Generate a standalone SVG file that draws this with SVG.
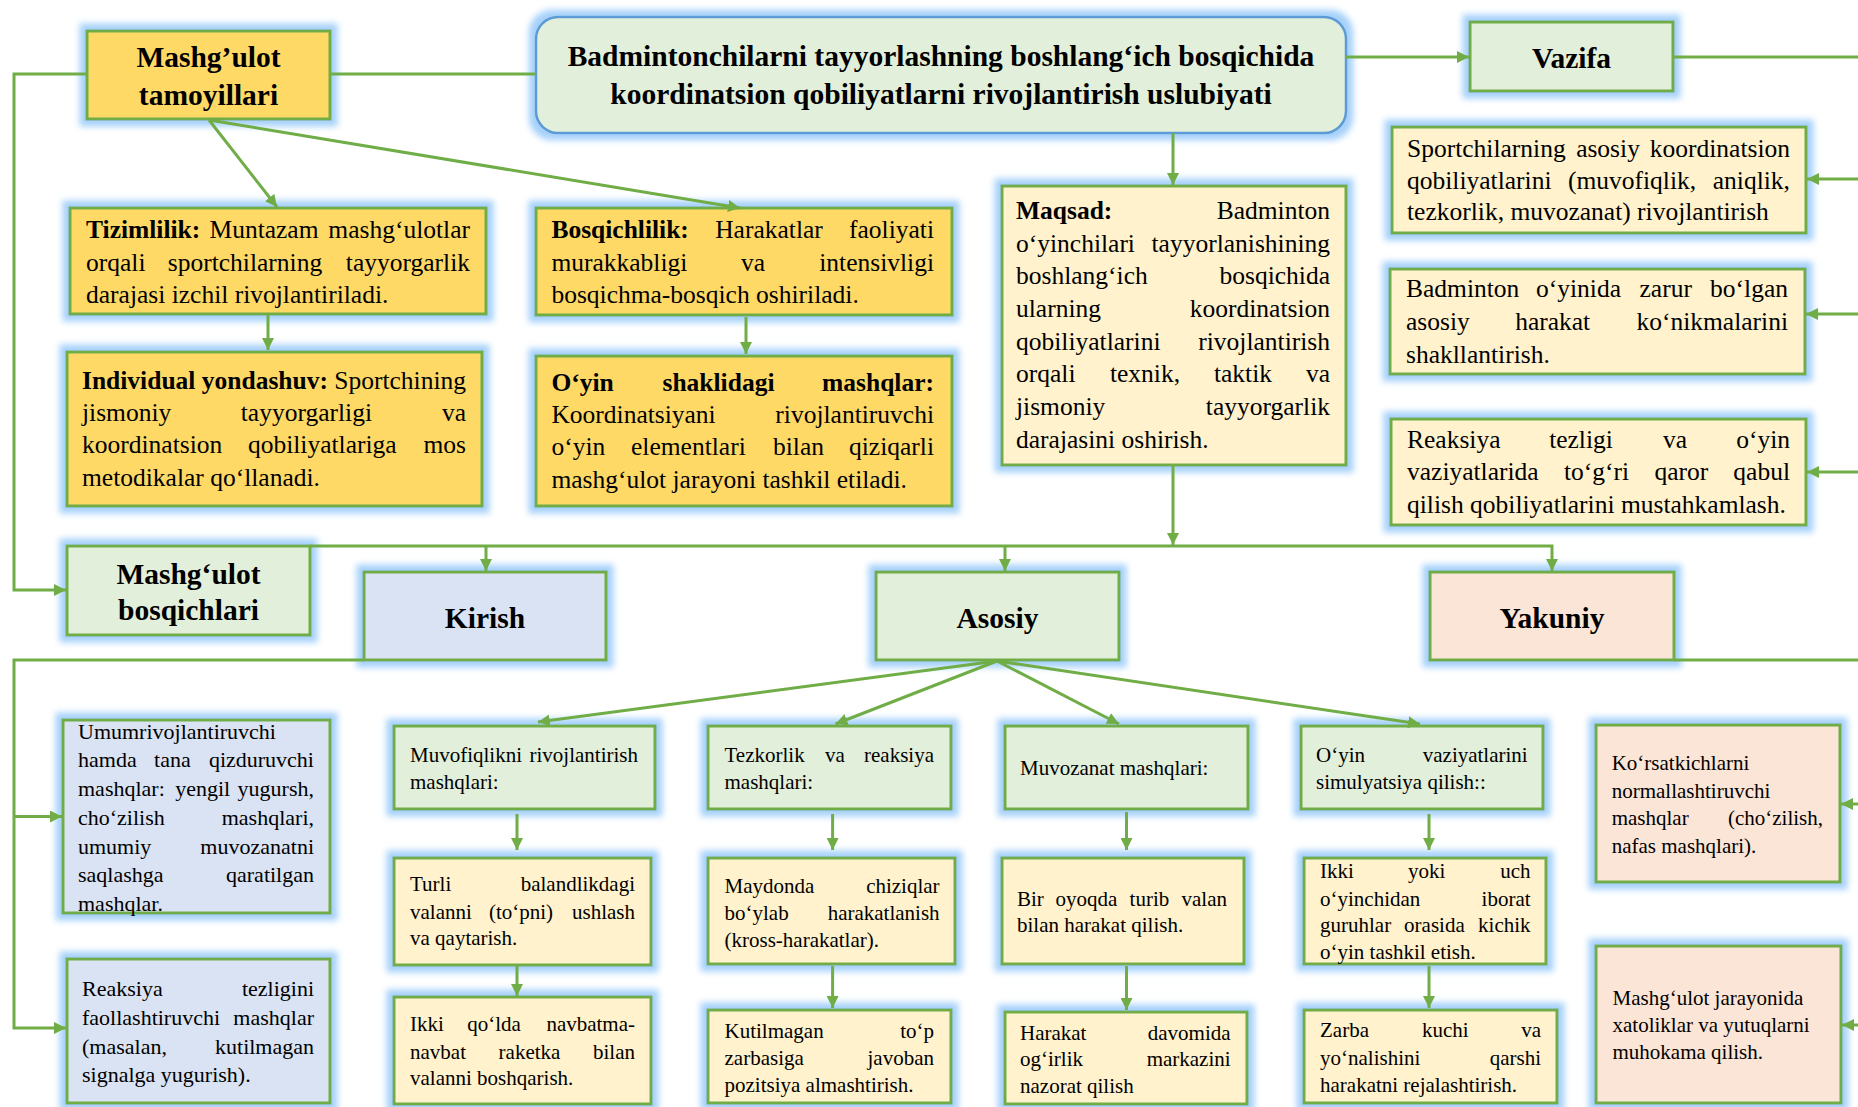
<svg xmlns="http://www.w3.org/2000/svg" width="1858" height="1107" viewBox="0 0 1858 1107">
<defs>
<filter id="glow" x="-15%" y="-25%" width="130%" height="150%">
<feMorphology in="SourceAlpha" operator="dilate" radius="6" result="d"/>
<feGaussianBlur in="d" stdDeviation="3" result="b"/>
<feFlood flood-color="#a6d1fb" flood-opacity="1"/>
<feComposite in2="b" operator="in" result="g"/>
<feMerge><feMergeNode in="g"/><feMergeNode in="SourceGraphic"/></feMerge>
</filter>
<marker id="ah" viewBox="0 0 12 12" refX="12" refY="6" markerWidth="12" markerHeight="12" markerUnits="userSpaceOnUse" orient="auto">
<path d="M0,0 L12,6 L0,12 z" fill="#70AD47"/>
</marker>
<style>
.bx{stroke:#70AD47;stroke-width:3;filter:url(#glow)}
.o{fill:#FFD966}.y{fill:#FFF2CC}.g{fill:#E2EFDA}.bl{fill:#DAE3F3}.p{fill:#FBE5D6}
text{font-family:"Liberation Serif","Times New Roman",serif;fill:#000}
.t{font-size:25.5px}
.s{font-size:21px}
.m{font-size:22px}
.h{font-size:29.5px;font-weight:bold;text-anchor:middle}
.k{font-weight:bold}
.mi{text-anchor:middle}
.e{text-anchor:end}
.c path{stroke:#70AD47;stroke-width:3;fill:none}
</style>
</defs>
<rect width="1858" height="1107" fill="#ffffff"/>

<g id="n-tamoyillari">
<rect class="bx o" x="87" y="31" width="243" height="88"/>
<text class="h" x="208.5" y="67">Mashg’ulot</text>
<text class="h" x="208.5" y="105">tamoyillari</text>
</g>

<g id="n-title">
<rect x="536" y="17" width="810" height="116" rx="22" fill="#E2EFDA" stroke="#5B9BD5" stroke-width="2.5" filter="url(#glow)"/>
<text class="h" x="941" y="66">Badmintonchilarni tayyorlashning boshlang‘ich bosqichida</text>
<text class="h" x="941" y="104">koordinatsion qobiliyatlarni rivojlantirish uslubiyati</text>
</g>

<g id="n-vazifa">
<rect class="bx g" x="1470" y="22" width="203" height="69"/>
<text class="h" x="1571.5" y="67.5">Vazifa</text>
</g>

<g id="n-tizimlilik">
<rect class="bx o" x="70" y="208" width="416" height="106"/>
<text class="t" y="238"><tspan x="86" class="k">Tizimlilik:</tspan><tspan x="264" class="mi">Muntazam</tspan><tspan x="470" class="e">mashg‘ulotlar</tspan></text>
<text class="t" y="270.5"><tspan x="86">orqali</tspan><tspan x="245" class="mi">sportchilarning</tspan><tspan x="470" class="e">tayyorgarlik</tspan></text>
<text class="t" x="86" y="303">darajasi izchil rivojlantiriladi.</text>
</g>

<g id="n-individual">
<rect class="bx o" x="67" y="352" width="415" height="154"/>
<text class="t" y="389"><tspan x="82" class="k">Individual yondashuv:</tspan><tspan x="466" class="e">Sportchining</tspan></text>
<text class="t" y="421"><tspan x="82">jismoniy</tspan><tspan x="306.4" class="mi">tayyorgarligi</tspan><tspan x="466" class="e">va</tspan></text>
<text class="t" y="453"><tspan x="82">koordinatsion</tspan><tspan x="322.3" class="mi">qobiliyatlariga</tspan><tspan x="466" class="e">mos</tspan></text>
<text class="t" x="82" y="485.5">metodikalar qo‘llanadi.</text>
</g>

<g id="n-bosqichlilik">
<rect class="bx o" x="536" y="208" width="416" height="107"/>
<text class="t" y="238"><tspan x="551.4" class="k">Bosqichlilik:</tspan><tspan x="769" class="mi">Harakatlar</tspan><tspan x="934" class="e">faoliyati</tspan></text>
<text class="t" y="270.5"><tspan x="551.4">murakkabligi</tspan><tspan x="753" class="mi">va</tspan><tspan x="934" class="e">intensivligi</tspan></text>
<text class="t" x="551.4" y="303">bosqichma-bosqich oshiriladi.</text>
</g>

<g id="n-oyin-shakl">
<rect class="bx o" x="536" y="356" width="416" height="150"/>
<text class="t k" y="391"><tspan x="551.4">O‘yin</tspan><tspan x="718.5" class="mi">shaklidagi</tspan><tspan x="934" class="e">mashqlar:</tspan></text>
<text class="t" y="423"><tspan x="551.4">Koordinatsiyani</tspan><tspan x="934" class="e">rivojlantiruvchi</tspan></text>
<text class="t" y="455"><tspan x="551.4">o‘yin</tspan><tspan x="688.4" class="mi">elementlari</tspan><tspan x="798.5" class="mi">bilan</tspan><tspan x="934" class="e">qiziqarli</tspan></text>
<text class="t" x="551.4" y="488">mashg‘ulot jarayoni tashkil etiladi.</text>
</g>

<g id="n-maqsad">
<rect class="bx y" x="1002" y="186" width="344" height="279"/>
<text class="t" y="219"><tspan x="1016" class="k">Maqsad:</tspan><tspan x="1330" class="e">Badminton</tspan></text>
<text class="t" y="251.5"><tspan x="1016">o‘yinchilari</tspan><tspan x="1330" class="e">tayyorlanishining</tspan></text>
<text class="t" y="284"><tspan x="1016">boshlang‘ich</tspan><tspan x="1330" class="e">bosqichida</tspan></text>
<text class="t" y="317"><tspan x="1016">ularning</tspan><tspan x="1330" class="e">koordinatsion</tspan></text>
<text class="t" y="349.5"><tspan x="1016">qobiliyatlarini</tspan><tspan x="1330" class="e">rivojlantirish</tspan></text>
<text class="t" y="382"><tspan x="1016">orqali</tspan><tspan x="1145" class="mi">texnik,</tspan><tspan x="1243" class="mi">taktik</tspan><tspan x="1330" class="e">va</tspan></text>
<text class="t" y="415"><tspan x="1016">jismoniy</tspan><tspan x="1330" class="e">tayyorgarlik</tspan></text>
<text class="t" x="1016" y="448">darajasini oshirish.</text>
</g>

<g id="n-vazifa-1">
<rect class="bx y" x="1392" y="127" width="414" height="106"/>
<text class="t" y="157"><tspan x="1407">Sportchilarning</tspan><tspan x="1608" class="mi">asosiy</tspan><tspan x="1790" class="e">koordinatsion</tspan></text>
<text class="t" y="189"><tspan x="1407">qobiliyatlarini</tspan><tspan x="1632" class="mi">(muvofiqlik,</tspan><tspan x="1790" class="e">aniqlik,</tspan></text>
<text class="t" x="1407" y="220">tezkorlik, muvozanat) rivojlantirish</text>
</g>

<g id="n-vazifa-2">
<rect class="bx y" x="1390" y="269" width="415" height="105"/>
<text class="t" y="297"><tspan x="1406">Badminton</tspan><tspan x="1578.5" class="mi">o‘yinida</tspan><tspan x="1665.7" class="mi">zarur</tspan><tspan x="1788" class="e">bo‘lgan</tspan></text>
<text class="t" y="330"><tspan x="1406">asosiy</tspan><tspan x="1552.7" class="mi">harakat</tspan><tspan x="1788" class="e">ko‘nikmalarini</tspan></text>
<text class="t" x="1406" y="363">shakllantirish.</text>
</g>

<g id="n-vazifa-3">
<rect class="bx y" x="1391" y="419" width="415" height="106"/>
<text class="t" y="448"><tspan x="1407">Reaksiya</tspan><tspan x="1581" class="mi">tezligi</tspan><tspan x="1675" class="mi">va</tspan><tspan x="1790" class="e">o‘yin</tspan></text>
<text class="t" y="480"><tspan x="1407">vaziyatlarida</tspan><tspan x="1596.6" class="mi">to‘g‘ri</tspan><tspan x="1681.3" class="mi">qaror</tspan><tspan x="1790" class="e">qabul</tspan></text>
<text class="t" x="1407" y="513">qilish qobiliyatlarini mustahkamlash.</text>
</g>

<g id="n-bosqichlari">
<rect class="bx g" x="67" y="546" width="243" height="89"/>
<text class="h" x="188.5" y="583.6">Mashg‘ulot</text>
<text class="h" x="188.5" y="620.3">bosqichlari</text>
</g>

<g id="n-kirish">
<rect class="bx bl" x="364" y="572" width="242" height="88"/>
<text class="h" x="485" y="628">Kirish</text>
</g>

<g id="n-asosiy">
<rect class="bx g" x="876" y="572" width="243" height="88"/>
<text class="h" x="997.5" y="628">Asosiy</text>
</g>

<g id="n-yakuniy">
<rect class="bx p" x="1430" y="572" width="244" height="88"/>
<text class="h" x="1552" y="628">Yakuniy</text>
</g>

<g id="n-umumrivojlantiruvchi">
<rect class="bx bl" x="63" y="720" width="267" height="193"/>
<text class="m" x="78" y="739">Umumrivojlantiruvchi</text>
<text class="m" y="767"><tspan x="78">hamda</tspan><tspan x="172.4" class="mi">tana</tspan><tspan x="314" class="e">qizduruvchi</tspan></text>
<text class="m" y="796"><tspan x="78">mashqlar:</tspan><tspan x="202.7" class="mi">yengil</tspan><tspan x="314" class="e">yugursh,</tspan></text>
<text class="m" y="825"><tspan x="78">cho‘zilish</tspan><tspan x="314" class="e">mashqlari,</tspan></text>
<text class="m" y="854"><tspan x="78">umumiy</tspan><tspan x="314" class="e">muvozanatni</tspan></text>
<text class="m" y="882"><tspan x="78">saqlashga</tspan><tspan x="314" class="e">qaratilgan</tspan></text>
<text class="m" x="78" y="911">mashqlar.</text>
</g>

<g id="n-reaksiya-tezligini">
<rect class="bx bl" x="67" y="959" width="263" height="144"/>
<text class="m" y="995.5"><tspan x="82">Reaksiya</tspan><tspan x="314" class="e">tezligini</tspan></text>
<text class="m" y="1024.7"><tspan x="82">faollashtiruvchi</tspan><tspan x="314" class="e">mashqlar</tspan></text>
<text class="m" y="1053.5"><tspan x="82">(masalan,</tspan><tspan x="314" class="e">kutilmagan</tspan></text>
<text class="m" x="82" y="1081.6">signalga yugurish).</text>
</g>

<g id="n-muvofiqlik">
<rect class="bx g" x="394" y="726" width="261" height="83"/>
<text class="s" y="761.5"><tspan x="410">Muvofiqlikni</tspan><tspan x="638" class="e">rivojlantirish</tspan></text>
<text class="s" x="410" y="789">mashqlari:</text>
</g>

<g id="n-turli">
<rect class="bx y" x="394" y="858" width="257" height="107"/>
<text class="s" y="890.6"><tspan x="410">Turli</tspan><tspan x="635" class="e">balandlikdagi</tspan></text>
<text class="s" y="918.7"><tspan x="410">valanni</tspan><tspan x="521" class="mi">(to‘pni)</tspan><tspan x="635" class="e">ushlash</tspan></text>
<text class="s" x="410" y="945">va qaytarish.</text>
</g>

<g id="n-ikki-qolda">
<rect class="bx y" x="394" y="997" width="257" height="107"/>
<text class="s" y="1031"><tspan x="410">Ikki</tspan><tspan x="494" class="mi">qo‘lda</tspan><tspan x="635" class="e">navbatma-</tspan></text>
<text class="s" y="1059"><tspan x="410">navbat</tspan><tspan x="529.5" class="mi">raketka</tspan><tspan x="635" class="e">bilan</tspan></text>
<text class="s" x="410" y="1085">valanni boshqarish.</text>
</g>

<g id="n-tezkorlik">
<rect class="bx g" x="708" y="726" width="243" height="83"/>
<text class="s" y="761.5"><tspan x="724.5">Tezkorlik</tspan><tspan x="835" class="mi">va</tspan><tspan x="934" class="e">reaksiya</tspan></text>
<text class="s" x="724.5" y="789">mashqlari:</text>
</g>

<g id="n-maydonda">
<rect class="bx y" x="708" y="858" width="247" height="106"/>
<text class="s" y="892.5"><tspan x="724.5">Maydonda</tspan><tspan x="939.6" class="e">chiziqlar</tspan></text>
<text class="s" y="920"><tspan x="724.5">bo‘ylab</tspan><tspan x="939.6" class="e">harakatlanish</tspan></text>
<text class="s" x="724.5" y="947">(kross-harakatlar).</text>
</g>

<g id="n-kutilmagan">
<rect class="bx y" x="708" y="1010" width="243" height="93"/>
<text class="s" y="1038"><tspan x="724.5">Kutilmagan</tspan><tspan x="934" class="e">to‘p</tspan></text>
<text class="s" y="1065"><tspan x="724.5">zarbasiga</tspan><tspan x="934" class="e">javoban</tspan></text>
<text class="s" x="724.5" y="1092">pozitsiya almashtirish.</text>
</g>

<g id="n-muvozanat">
<rect class="bx g" x="1005" y="726" width="243" height="83"/>
<text class="s" x="1020" y="775">Muvozanat mashqlari:</text>
</g>

<g id="n-bir-oyoqda">
<rect class="bx y" x="1002" y="858" width="242" height="106"/>
<text class="s" y="905.6"><tspan x="1017">Bir</tspan><tspan x="1086.5" class="mi">oyoqda</tspan><tspan x="1149.4" class="mi">turib</tspan><tspan x="1227" class="e">valan</tspan></text>
<text class="s" x="1017" y="932">bilan harakat qilish.</text>
</g>

<g id="n-harakat">
<rect class="bx y" x="1005" y="1012" width="242" height="92"/>
<text class="s" y="1039.6"><tspan x="1020">Harakat</tspan><tspan x="1230.6" class="e">davomida</tspan></text>
<text class="s" y="1066"><tspan x="1020">og‘irlik</tspan><tspan x="1230.6" class="e">markazini</tspan></text>
<text class="s" x="1020" y="1093">nazorat qilish</text>
</g>

<g id="n-oyin-vaziyat">
<rect class="bx g" x="1301" y="726" width="242" height="83"/>
<text class="s" y="761.5"><tspan x="1316">O‘yin</tspan><tspan x="1527.7" class="e">vaziyatlarini</tspan></text>
<text class="s" x="1316" y="789">simulyatsiya qilish::</text>
</g>

<g id="n-ikki-yoki">
<rect class="bx y" x="1304" y="858" width="242" height="106"/>
<text class="s" y="877.5"><tspan x="1320">Ikki</tspan><tspan x="1426.7" class="mi">yoki</tspan><tspan x="1530.6" class="e">uch</tspan></text>
<text class="s" y="905.6"><tspan x="1320">o‘yinchidan</tspan><tspan x="1530.6" class="e">iborat</tspan></text>
<text class="s" y="932"><tspan x="1320">guruhlar</tspan><tspan x="1434.4" class="mi">orasida</tspan><tspan x="1530.6" class="e">kichik</tspan></text>
<text class="s" x="1320" y="959">o‘yin tashkil etish.</text>
</g>

<g id="n-zarba">
<rect class="bx y" x="1304" y="1010" width="253" height="93"/>
<text class="s" y="1036.6"><tspan x="1320">Zarba</tspan><tspan x="1445.3" class="mi">kuchi</tspan><tspan x="1541" class="e">va</tspan></text>
<text class="s" y="1064.7"><tspan x="1320">yo‘nalishini</tspan><tspan x="1541" class="e">qarshi</tspan></text>
<text class="s" x="1320" y="1091.7">harakatni rejalashtirish.</text>
</g>

<g id="n-korsatkich">
<rect class="bx p" x="1596" y="725" width="244" height="157"/>
<text class="s" x="1611.7" y="770">Ko‘rsatkichlarni</text>
<text class="s" x="1611.7" y="798">normallashtiruvchi</text>
<text class="s" y="825"><tspan x="1611.7">mashqlar</tspan><tspan x="1823" class="e">(cho‘zilish,</tspan></text>
<text class="s" x="1611.7" y="852.5">nafas mashqlari).</text>
</g>

<g id="n-jarayon">
<rect class="bx p" x="1596" y="946" width="245" height="157"/>
<text class="s" x="1612.5" y="1005">Mashg‘ulot jarayonida</text>
<text class="s" x="1612.5" y="1032">xatoliklar va yutuqlarni</text>
<text class="s" x="1612.5" y="1059">muhokama qilish.</text>
</g>

<g id="connectors" class="c">
<path d="M330,74 H536"/>
<path d="M87,74 H14 V590 H66" marker-end="url(#ah)"/>
<path d="M1346,57 H1469" marker-end="url(#ah)"/>
<path d="M1673,57 H1860"/>
<path d="M1860,179 H1807" marker-end="url(#ah)"/>
<path d="M1860,314 H1806" marker-end="url(#ah)"/>
<path d="M1860,472 H1807" marker-end="url(#ah)"/>
<path d="M1173,133 V185" marker-end="url(#ah)"/>
<path d="M1173,465 V545" marker-end="url(#ah)"/>
<path d="M310,546 H1552 V571" marker-end="url(#ah)"/>
<path d="M486,546 V571" marker-end="url(#ah)"/>
<path d="M1005,546 V571" marker-end="url(#ah)"/>
<path d="M364,660 H14 V1028 H66" marker-end="url(#ah)"/>
<path d="M14,816.5 H62" marker-end="url(#ah)"/>
<path d="M1674,660 H1860"/>
<path d="M1860,804 H1841" marker-end="url(#ah)"/>
<path d="M1860,1025 H1842" marker-end="url(#ah)"/>
<path d="M209,120 L277,207" marker-end="url(#ah)"/>
<path d="M209,120 L740,208" marker-end="url(#ah)"/>
<path d="M268,315 V350" marker-end="url(#ah)"/>
<path d="M746,317 V354" marker-end="url(#ah)"/>
<path d="M997,661 L538,722" marker-end="url(#ah)"/>
<path d="M997,661 L835.5,724" marker-end="url(#ah)"/>
<path d="M997,661 L1119,724" marker-end="url(#ah)"/>
<path d="M997,661 L1420,724" marker-end="url(#ah)"/>
<path d="M517,814 V850" marker-end="url(#ah)"/>
<path d="M517,966 V996" marker-end="url(#ah)"/>
<path d="M832.6,814 V850" marker-end="url(#ah)"/>
<path d="M832.6,966 V1008" marker-end="url(#ah)"/>
<path d="M1126.5,812 V850" marker-end="url(#ah)"/>
<path d="M1126.5,966 V1010" marker-end="url(#ah)"/>
<path d="M1429,814 V850" marker-end="url(#ah)"/>
<path d="M1429,966 V1008" marker-end="url(#ah)"/>
</g>
</svg>
